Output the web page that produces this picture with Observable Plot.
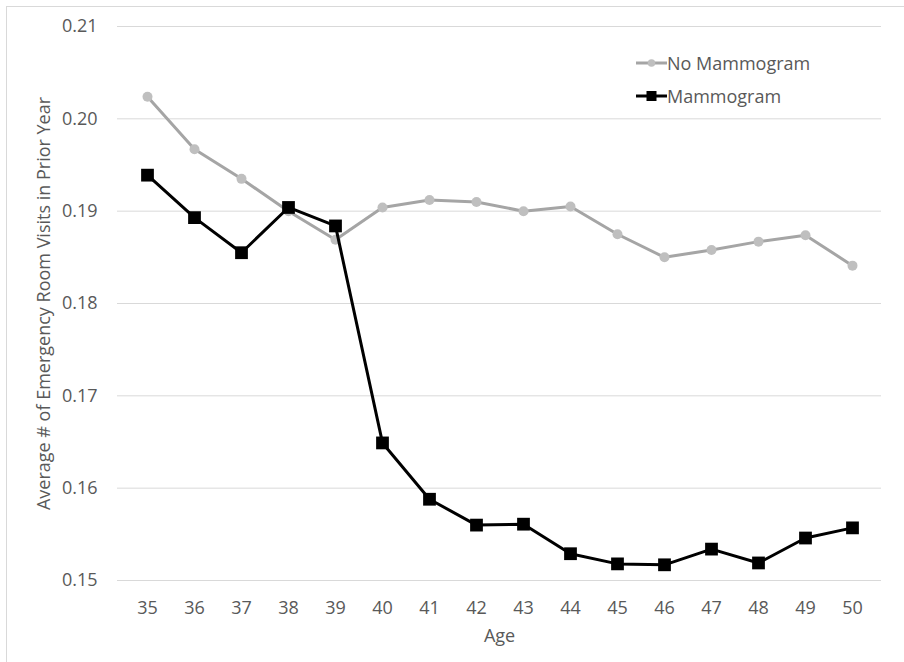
<!DOCTYPE html>
<html><head><meta charset="utf-8">
<script src="https://cdn.jsdelivr.net/npm/d3@7"></script>
<script src="https://cdn.jsdelivr.net/npm/@observablehq/plot@0.6"></script>
<style>
body{margin:0;background:#fff;font-family:"Open Sans",sans-serif;}
#wrap{position:relative;width:904px;height:662px;overflow:hidden;background:#fff;}
#frame{position:absolute;left:6px;top:6px;width:940px;height:700px;border:1px solid #d9d9d9;}
#chart{position:absolute;left:0;top:0;}
#legend{position:absolute;left:636px;top:46px;font-size:18px;color:#595959;}
.row{display:flex;align-items:center;height:33px;white-space:nowrap;}
.row svg{display:block;}
</style></head><body>
<div id="wrap"><div id="frame"></div><div id="chart"></div><div id="legend"></div></div>
<script>
const ages = [35,36,37,38,39,40,41,42,43,44,45,46,47,48,49,50];
const noMammogram = [0.2024,0.1967,0.1935,0.1900,0.1869,0.1904,0.1912,0.1910,0.1900,0.1905,0.1875,0.1850,0.1858,0.1867,0.1874,0.1841];
const mammogram = [0.1939,0.1893,0.1855,0.1904,0.1884,0.1649,0.1588,0.1560,0.1561,0.1529,0.1518,0.1517,0.1534,0.1519,0.1546,0.1557];
const yTicks = [0.15,0.16,0.17,0.18,0.19,0.20,0.21];
const seriesNames = ["No Mammogram","Mammogram"];
const xLabel = "Age";
const yLabel = "Average # of Emergency Room Visits in Prior Year";

const noRows = ages.map((a,i)=>({age:a, v:noMammogram[i]}));
const mRows = ages.map((a,i)=>({age:a, v:mammogram[i]}));

const chart = Plot.plot({
  width:904, height:662,
  marginLeft:117, marginRight:23, marginTop:26, marginBottom:82,
  style:{fontFamily:"'Open Sans', sans-serif", fontSize:"18px", color:"#595959", background:"transparent"},
  x:{type:"point", domain:ages, padding:0.5},
  y:{domain:[0.15,0.21]},
  marks:[
    Plot.gridY(yTicks,{stroke:"#d9d9d9", strokeOpacity:1, strokeWidth:1}),
    Plot.axisY(yTicks,{tickSize:0, tickPadding:20, tickFormat:d=>d.toFixed(2), label:yLabel, labelAnchor:"center", labelArrow:"none", labelOffset:80, fill:"#595959"}),
    Plot.axisX(ages,{tickSize:0, tickPadding:21, label:xLabel, labelAnchor:"center", labelArrow:"none", labelOffset:61, fill:"#595959"}),
    Plot.line(noRows,{x:"age", y:"v", stroke:"#a5a5a5", strokeWidth:3}),
    Plot.dot(noRows,{x:"age", y:"v", r:5, fill:"#bfbfbf", stroke:"none"}),
    Plot.line(mRows,{x:"age", y:"v", stroke:"#000", strokeWidth:3}),
    Plot.dot(mRows,{x:"age", y:"v", symbol:"square", r:7.2, fill:"#000", stroke:"none"})
  ]
});
document.getElementById("chart").appendChild(chart);

const legendStyles = [
  {line:"#a5a5a5", fill:"#bfbfbf", shape:"circle"},
  {line:"#000", fill:"#000", shape:"square"}
];
const legend = document.getElementById("legend");
seriesNames.forEach((name,i)=>{
  const st = legendStyles[i];
  const row = document.createElement("div");
  row.className = "row";
  const marker = st.shape === "circle"
    ? `<circle cx="15.5" cy="7" r="3.8" fill="${st.fill}"/>`
    : `<rect x="10.5" y="2" width="10" height="10" fill="${st.fill}"/>`;
  row.innerHTML = `<svg width="31" height="14"><line x1="0" x2="31" y1="7" y2="7" stroke="${st.line}" stroke-width="3"/>${marker}</svg><span>${name}</span>`;
  legend.appendChild(row);
});
</script>
</body></html>
